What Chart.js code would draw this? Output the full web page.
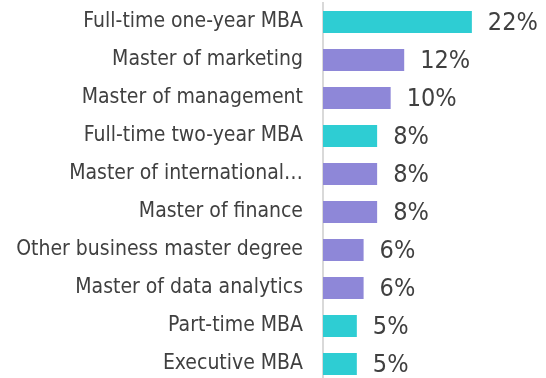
<!DOCTYPE html>
<html>
<head>
<meta charset="utf-8">
<script src="https://cdn.jsdelivr.net/npm/chart.js@4/dist/chart.umd.min.js"></script>
<style>
  html, body { margin: 0; padding: 0; background: #fff; overflow: hidden; }
  #wrap { width: 546px; height: 383px; position: relative; }
</style>
</head>
<body>
<div id="wrap"><canvas id="chart"></canvas></div>
<script>
// ── Data ──────────────────────────────────────────────────────────
const programs = [
  'Full-time one-year MBA',
  'Master of marketing',
  'Master of management',
  'Full-time two-year MBA',
  'Master of international…',
  'Master of finance',
  'Other business master degree',
  'Master of data analytics',
  'Part-time MBA',
  'Executive MBA'
];
const shares = [22, 12, 10, 8, 8, 8, 6, 6, 5, 5];
const isMBA = [true, false, false, true, false, false, false, false, true, true];

const TEAL = '#2ecdd3';
const PURPLE = '#8e87d8';
const TEXT = '#404040';
const FONT = '"DejaVu Sans Condensed", "DejaVu Sans", sans-serif';

// ── Value labels at bar ends ─────────────────────────────────────
const valueLabels = {
  id: 'valueLabels',
  afterDatasetsDraw(chart) {
    const ctx = chart.ctx;
    const meta = chart.getDatasetMeta(0);
    ctx.save();
    ctx.font = '25px ' + FONT;
    ctx.fillStyle = TEXT;
    ctx.textAlign = 'left';
    ctx.textBaseline = 'middle';
    meta.data.forEach((bar, i) => {
      ctx.fillText(shares[i] + '%', bar.x + 16, bar.y + 1);
    });
    ctx.restore();
  }
};

new Chart(document.getElementById('chart'), {
  type: 'bar',
  data: {
    labels: programs,
    datasets: [{
      data: shares,
      backgroundColor: isMBA.map(m => m ? TEAL : PURPLE),
      barPercentage: 0.58,
      categoryPercentage: 1
    }]
  },
  options: {
    indexAxis: 'y',
    responsive: true,
    maintainAspectRatio: false,
    animation: false,
    layout: { padding: { top: 3, right: 20, bottom: 0, left: 0 } },
    plugins: { legend: { display: false }, tooltip: { enabled: false } },
    scales: {
      x: { display: false, min: 0, max: 30 },
      y: {
        // tick marks hidden; tickLength only spaces the labels from the axis
        grid: { display: false, drawTicks: true, tickLength: 20 },
        border: { display: true, color: '#d9d9d9', width: 2 },
        ticks: { color: TEXT, padding: 0, font: { family: FONT, size: 21 } },
        afterFit(scale) {
          scale.width = 323;
          scale.paddingTop = 0;
          scale.paddingBottom = 0;
        }
      }
    }
  },
  plugins: [valueLabels]
});
</script>
</body>
</html>
